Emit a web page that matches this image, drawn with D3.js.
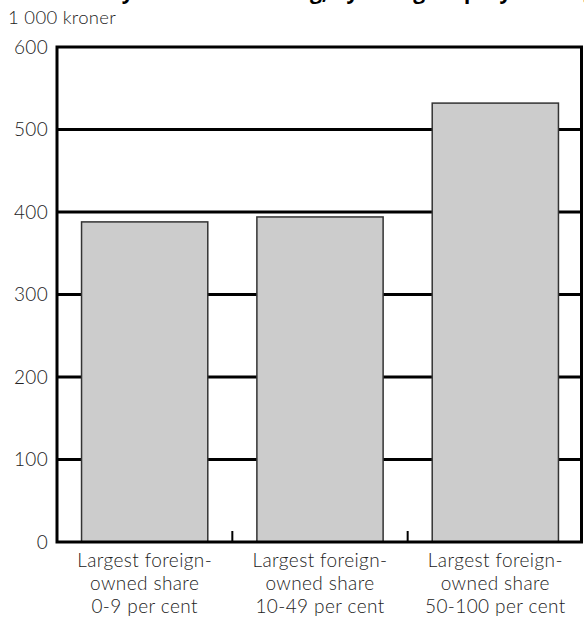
<!DOCTYPE html>
<html><head><meta charset="utf-8">
<script src="https://cdn.jsdelivr.net/npm/d3@7"></script>
<style>body{margin:0;background:#fff}svg{display:block}</style>
</head><body>
<script>
const categories = [
  ["Largest foreign-", "owned share", "0-9 per cent"],
  ["Largest foreign-", "owned share", "10-49 per cent"],
  ["Largest foreign-", "owned share", "50-100 per cent"]
];
const values = [388, 394, 532];
const yTicks = [0, 100, 200, 300, 400, 500, 600];
const unitLabel = "1 000 kroner";
const title = "Productivity in manufacturing, by foreign equity holding, 1999";

const W = 584, H = 621;
const m = {left: 57, right: 1, top: 47, bottom: 79};
const svg = d3.select("body").append("svg").attr("width", W).attr("height", H);
const font = "Lato, 'Open Sans', sans-serif";
const textCol = "#222";
const weight = 300;

const x = d3.scaleBand().domain(d3.range(categories.length))
  .range([m.left, W - m.right]).paddingInner(0.28).paddingOuter(0.14);
const y = d3.scaleLinear().domain([0, 600]).range([H - m.bottom, m.top]);

// clipped title (only descenders visible, as in the reference)
svg.append("text").attr("x", 330).attr("y", -1.5).attr("text-anchor", "middle")
  .attr("font-family", "'Open Sans', sans-serif").attr("font-weight", "bold").attr("font-size", 21)
  .attr("fill", "#000").text(title);

svg.append("text").attr("x", 8).attr("y", 24).attr("font-family", font).attr("font-weight", weight)
  .attr("font-size", 18.5).attr("letter-spacing", 0.3).attr("fill", textCol).text(unitLabel);

// gridlines
svg.append("g").selectAll("line").data(yTicks.filter(d => d > 0 && d < 600)).join("line")
  .attr("x1", m.left).attr("x2", W - m.right)
  .attr("y1", d => y(d)).attr("y2", d => y(d))
  .attr("stroke", "#000").attr("stroke-width", 3);

// bars
svg.append("g").selectAll("rect").data(values).join("rect")
  .attr("x", (d, i) => x(i)).attr("width", x.bandwidth())
  .attr("y", d => y(d)).attr("height", d => y(0) - y(d))
  .attr("fill", "#cccccc").attr("stroke", "#333").attr("stroke-width", 1.5);

// frame
const x0 = m.left, x1 = W - m.right - 1.5, y0 = y(600), y1 = y(0);
svg.append("path").attr("d", `M${x0},${y1}V${y0}H${x1}V${y1}Z`)
  .attr("fill", "none").attr("stroke", "#000").attr("stroke-width", 3);

// separator ticks
svg.append("g").selectAll("line").data([1, 2]).join("line")
  .attr("x1", d => m.left + d * (W - m.right - m.left) / 3)
  .attr("x2", d => m.left + d * (W - m.right - m.left) / 3)
  .attr("y1", y1).attr("y2", y1 - 11)
  .attr("stroke", "#000").attr("stroke-width", 2);

// y axis labels
const yAxis = d3.axisLeft(y).tickValues(yTicks).tickSize(0).tickPadding(9);
const ga = svg.append("g").attr("transform", `translate(${m.left},0)`).call(yAxis);
ga.select(".domain").remove();
ga.selectAll("text").attr("font-family", font).attr("font-weight", weight).attr("font-size", 19)
  .attr("letter-spacing", 0.3).attr("fill", textCol);

// x labels, one text per line
const gx = svg.append("g");
categories.forEach((lines, i) => {
  const cx = x(i) + x.bandwidth() / 2;
  lines.forEach((l, j) => gx.append("text").attr("x", cx).attr("y", y1 + 25 + j * 23)
    .attr("text-anchor", "middle").attr("font-family", font).attr("font-weight", weight).attr("font-size", 19)
    .attr("letter-spacing", 0.4).attr("fill", textCol).text(l));
});
</script>
</body></html>
